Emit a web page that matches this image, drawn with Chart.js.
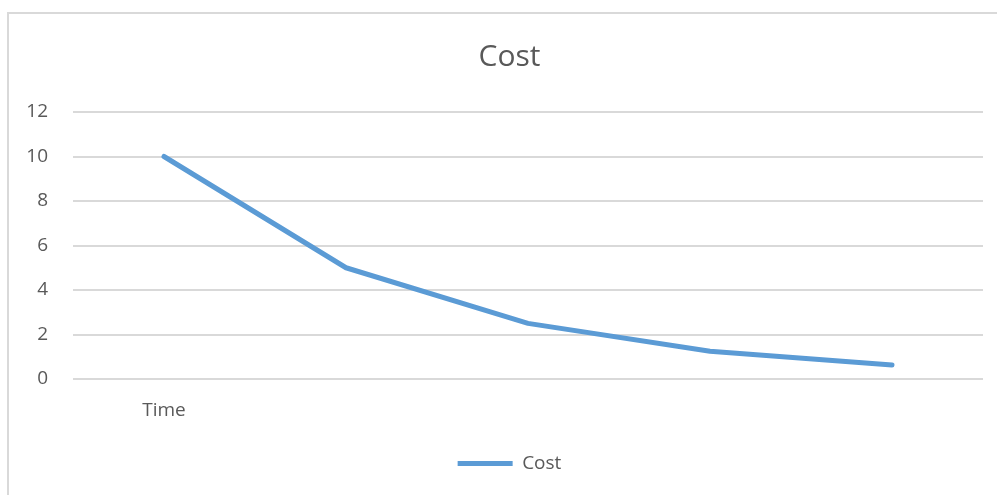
<!DOCTYPE html>
<html>
<head>
<meta charset="utf-8">
<script src="https://cdn.jsdelivr.net/npm/chart.js@4"></script>
<style>
  body { margin: 0; background: #fff; overflow: hidden; }
  #frame { position: absolute; left: 7px; top: 12px; width: 1010px; height: 500px; border: 2px solid #d9d9d9; }
  #myChart { position: absolute; left: 0; top: 0; }
</style>
</head>
<body>
<div id="frame"></div>
<canvas id="myChart" width="997" height="495"></canvas>
<script>
// data
const categories = ['Time', '', '', '', ''];
const costValues = [10, 5, 2.5, 1.25, 0.625];
const yTicks = [0, 2, 4, 6, 8, 10, 12];

const grey = '#595959';
const blue = '#5b9bd5';
const font = '"Open Sans", "Liberation Sans", sans-serif';

const ctx = document.getElementById('myChart').getContext('2d');

const myChart = new Chart(ctx, {
  type: 'line',
  data: {
    labels: categories,
    datasets: [{
      label: 'Cost',
      data: costValues,
      borderColor: blue,
      backgroundColor: blue,
      borderWidth: 5,
      borderCapStyle: 'round',
      borderJoinStyle: 'round',
      tension: 0,
      pointRadius: 0,
      fill: false
    }]
  },
  options: {
    responsive: false,
    animation: false,
    layout: { padding: { left: 22, right: 0, top: 0, bottom: 12 } },
    plugins: {
      title: {
        display: true,
        text: 'Cost',
        color: grey,
        font: { family: font, size: 30, weight: 'normal' },
        padding: { top: 39, bottom: 37 }
      },
      legend: {
        position: 'bottom',
        labels: {
          color: grey,
          font: { family: font, size: 19 },
          boxWidth: 55,
          boxHeight: 5,
          useBorderRadius: true,
          borderRadius: 2.5,
          generateLabels: () => [{
            text: 'Cost', fillStyle: blue, strokeStyle: blue, lineWidth: 0,
            hidden: false, datasetIndex: 0, fontColor: grey
          }]
        }
      },
      tooltip: { enabled: false }
    },
    scales: {
      x: {
        offset: true,
        grid: { display: false, drawTicks: false },
        border: { display: false },
        ticks: { color: grey, font: { family: font, size: 19 }, padding: 20, maxRotation: 0 },
        afterFit: s => { s.height = 65; }
      },
      y: {
        min: 0,
        max: 12,
        grid: { color: '#d9d9d9', lineWidth: 2, drawTicks: false },
        border: { display: false },
        afterBuildTicks: s => { s.ticks = yTicks.map(v => ({ value: v })); },
        ticks: { color: grey, font: { family: font, size: 19 }, padding: 25 },
        afterFit: s => { s.width = 51; }
      },
      yRight: {
        position: 'right',
        display: true,
        grid: { display: false },
        border: { display: false },
        ticks: { display: false },
        afterFit: s => { s.width = 14; }
      }
    }
  }
});
</script>
</body>
</html>
